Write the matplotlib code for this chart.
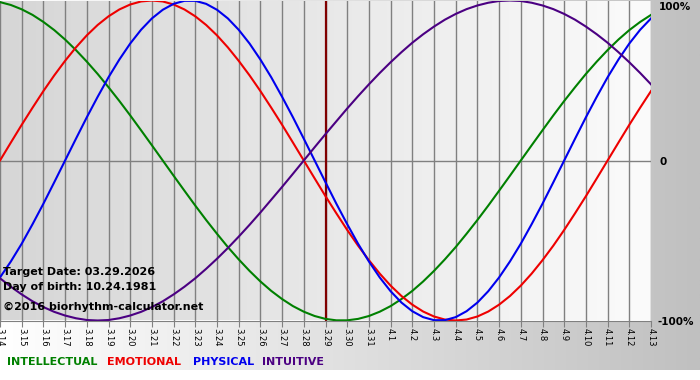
import numpy as np
import matplotlib
matplotlib.use('Agg')
import matplotlib.pyplot as plt
from matplotlib.colors import LinearSegmentedColormap

dates = ['3.14', '3.15', '3.16', '3.17', '3.18', '3.19', '3.20', '3.21', '3.22', '3.23',
         '3.24', '3.25', '3.26', '3.27', '3.28', '3.29', '3.30', '3.31', '4.1', '4.2',
         '4.3', '4.4', '4.5', '4.6', '4.7', '4.8', '4.9', '4.10', '4.11', '4.12', '4.13']
target_day = '3.29'

# values in percent, read every half day from 3.14 to 4.13
intellectual = [99.0, 97.2, 94.5, 91.0, 86.6, 81.5, 75.6, 69.0, 61.8, 54.1, 45.8, 37.2, 28.2, 18.9, 9.5, 0,
                -9.5, -18.9, -28.2, -37.2, -45.8, -54.1, -61.8, -69.0, -75.6, -81.5, -86.6, -91.0,
                -94.5, -97.2, -99.0, -99.9, -99.9, -99.0, -97.2, -94.5, -91.0, -86.6, -81.5, -75.6,
                -69.0, -61.8, -54.1, -45.8, -37.2, -28.2, -18.9, -9.5,
                0, 9.5, 18.9, 28.2, 37.2, 45.8, 54.1, 61.8, 69.0, 75.6, 81.5, 86.6, 91.0]
emotional = [0, 11.2, 22.3, 33.0, 43.4, 53.2, 62.3, 70.7, 78.2, 84.7, 90.1, 94.4, 97.5, 99.4, 100,
             99.4, 97.5, 94.4, 90.1, 84.7, 78.2, 70.7, 62.3, 53.2, 43.4, 33.0, 22.3, 11.2, 0,
             -11.2, -22.3, -33.0, -43.4, -53.2, -62.3, -70.7, -78.2, -84.7, -90.1, -94.4, -97.5, -99.4, -100,
             -99.4, -97.5, -94.4, -90.1, -84.7, -78.2, -70.7, -62.3, -53.2, -43.4, -33.0, -22.3, -11.2, 0,
             11.2, 22.3, 33.0, 43.4]
physical = [-73.1, -63.1, -52.0, -39.8, -27.0, -13.6,
            0, 13.6, 27.0, 39.8, 52.0, 63.1, 73.1, 81.7, 88.8, 94.2, 97.9, 99.8,
            99.8, 97.9, 94.2, 88.8, 81.7, 73.1, 63.1, 52.0, 39.8, 27.0, 13.6, 0,
            -13.6, -27.0, -39.8, -52.0, -63.1, -73.1, -81.7, -88.8, -94.2, -97.9, -99.8,
            -99.8, -97.9, -94.2, -88.8, -81.7, -73.1, -63.1, -52.0, -39.8, -27.0, -13.6,
            0, 13.6, 27.0, 39.8, 52.0, 63.1, 73.1, 81.7, 88.8]
intuitive = [-73.6, -78.9, -83.7, -88.0, -91.6, -94.6, -96.9, -98.6, -99.7, -100, -99.7, -98.6, -96.9, -94.6,
             -91.6, -88.0, -83.7, -78.9, -73.6, -67.7, -61.4, -54.7, -47.6, -40.2, -32.5, -24.5, -16.5, -8.3,
             0,
             8.3, 16.5, 24.5, 32.5, 40.2, 47.6, 54.7, 61.4, 67.7, 73.6, 78.9, 83.7, 88.0, 91.6, 94.6, 96.9,
             98.6, 99.7, 100, 99.7, 98.6, 96.9, 94.6, 91.6, 88.0, 83.7, 78.9, 73.6, 67.7, 61.4, 54.7, 47.6]

series = [('INTELLECTUAL', intellectual, '#008000'),
          ('EMOTIONAL', emotional, '#ee0000'),
          ('PHYSICAL', physical, '#0000ee'),
          ('INTUITIVE', intuitive, '#4b0082')]

W, H = 700, 380
fig = plt.figure(figsize=(7, 3.8), dpi=100)
fig.patch.set_facecolor('white')

grad = np.linspace(0, 1, 256).reshape(1, -1)

# grey gradient behind everything (white strip at the very bottom)
bg = fig.add_axes([0, 10 / H, 1, 370 / H], zorder=0)
bg.imshow(grad, aspect='auto', extent=[0, 1, 0, 1],
          cmap=LinearSegmentedColormap.from_list('bg', ['#ffffff', '#c0c0c0']))
bg.axis('off')

ax = fig.add_axes([0, 59.5 / H, 651 / W, 320 / H], zorder=1)
ax.imshow(grad, aspect='auto', extent=[0, len(dates) - 1, -100, 100], zorder=0,
          cmap=LinearSegmentedColormap.from_list('plot', ['#d6d6d6', '#fbfbfb']))

x = np.arange(len(dates))
ax.set_xlim(0, len(dates) - 1)
ax.set_ylim(-100, 100)
ax.set_xticks(x)
ax.set_xticklabels(dates, rotation=270, fontsize=6)
ax.tick_params(axis='x', length=4, color='#808080', pad=1.5)
ax.set_yticks([])
ax.grid(axis='x', color='#808080', lw=1)
ax.axhline(0, color='#808080', lw=1, zorder=1.6)
for s in ['top', 'left', 'right']:
    ax.spines[s].set_visible(False)
ax.spines['bottom'].set_color('#808080')

ax.axvline(dates.index(target_day), color='#800000', lw=1.6, zorder=1.8)

for name, vals, col in series:
    t = np.arange(len(vals)) / 2
    ax.plot(t, vals, color=col, lw=1.5, zorder=2)

bold = dict(fontsize=8, fontweight='bold', va='center', color='black')
fig.text(3 / W, 1 - 272 / H, 'Target Date: 03.29.2026', **bold)
fig.text(3 / W, 1 - 287 / H, 'Day of birth: 10.24.1981', **bold)
fig.text(3 / W, 1 - 307 / H, '\u00a92016 biorhythm-calculator.net', **bold)

rl = dict(fontsize=7.5, fontweight='bold', va='center', color='black')
fig.text(659 / W, 1 - 7 / H, '100%', **rl)
fig.text(659 / W, 1 - 162 / H, '0', **rl)
fig.text(657 / W, 1 - 322 / H, '-100%', **rl)

leg_x = [7, 107, 193, 262]
for (name, vals, col), lx in zip(series, leg_x):
    fig.text(lx / W, 1 - 362 / H, name, fontsize=8, fontweight='bold', va='center', color=col)

plt.savefig('out.png', dpi=100)
plt.close()
